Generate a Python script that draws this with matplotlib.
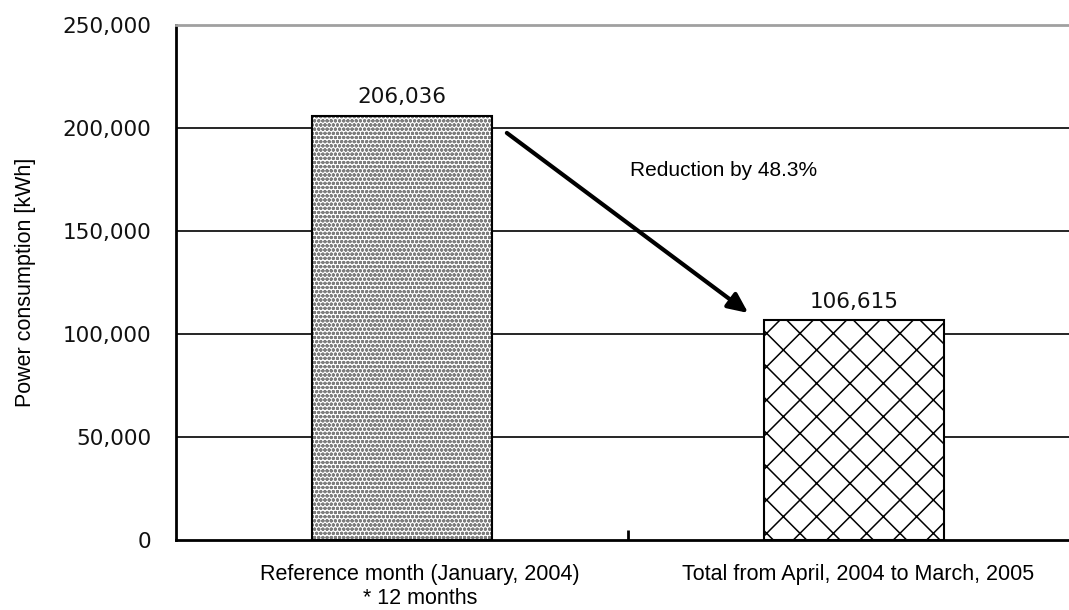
import matplotlib
matplotlib.use("Agg")
import matplotlib.pyplot as plt
from matplotlib.ticker import FuncFormatter, FixedLocator

plt.rcParams['font.family'] = ['Liberation Sans', 'DejaVu Sans']
plt.rcParams['hatch.linewidth'] = 1.1

categories = ["Reference month (January, 2004)\n* 12 months",
              "Total from April, 2004 to March, 2005"]
consumo = [206036, 106615]
etiquetas = ["206,036", "106,615"]
rellenos = ['oooo', 'x']
color_relleno = ['#7e7e7e', 'black']
reduccion = "Reduction by 48.3%"
yticks = [0, 50000, 100000, 150000, 200000, 250000]

fig = plt.figure(figsize=(10.69, 6.10), dpi=100)
ax = fig.add_axes([176 / 1069, 70 / 610, 904 / 1069, 515 / 610])

x = list(range(len(consumo)))
# primero el relleno (sin borde) y luego el contorno negro encima
relleno = ax.bar(x, consumo, width=0.4, color='white', edgecolor=color_relleno,
                 linewidth=0, zorder=3)
for barra, patron in zip(relleno, rellenos):
    barra.set_hatch(patron)
ax.bar(x, consumo, width=0.4, fill=False, edgecolor='black',
       linewidth=1.5, zorder=4)

# etiquetas de valor sobre cada barra
for xi, v, txt in zip(x, consumo, etiquetas):
    ax.text(xi, v + 4300, txt, ha='center', va='bottom',
            fontsize=15.5, family='DejaVu Sans', color='#111111', zorder=4)

ax.set_xlim(-0.5, 1.5)
ax.set_ylim(0, 250000)

ax.set_yticks(yticks)
ax.yaxis.set_major_formatter(FuncFormatter(lambda v, p: f"{int(v):,}"))
ax.tick_params(axis='y', length=0, pad=18, labelsize=15.5)
for t in ax.get_yticklabels():
    t.set_family('DejaVu Sans')
    t.set_color('#111111')

# los textos de categoría van algo desplazados respecto a las barras
ax.set_xticks([0.04, 1.01])
ax.set_xticklabels(categories, fontsize=15.5, linespacing=1.2)
ax.tick_params(axis='x', length=0, pad=17)
ax.xaxis.set_minor_locator(FixedLocator([0.5]))
ax.tick_params(axis='x', which='minor', direction='in', length=7, width=2)

for y in yticks[1:-1]:
    ax.axhline(y, color='black', linewidth=1.2, zorder=1)

ax.spines['left'].set_linewidth(2)
ax.spines['bottom'].set_linewidth(2)
ax.spines['top'].set_color('#a0a0a0')
ax.spines['top'].set_linewidth(2)
ax.spines['right'].set_visible(False)

ax.set_ylabel("Power consumption [kWh]", fontsize=15.5, labelpad=19)

# flecha de reducción entre ambas barras
ax.annotate("", xy=(0.766, 110200), xytext=(0.232, 197600),
            arrowprops=dict(arrowstyle='-|>,head_length=1.2,head_width=0.55',
                            color='black', lw=3, shrinkA=0, shrinkB=0),
            zorder=5)
ax.text(0.504, 179600, reduccion, fontsize=15, va='center', ha='left')

fig.savefig('out.png', dpi=100)
